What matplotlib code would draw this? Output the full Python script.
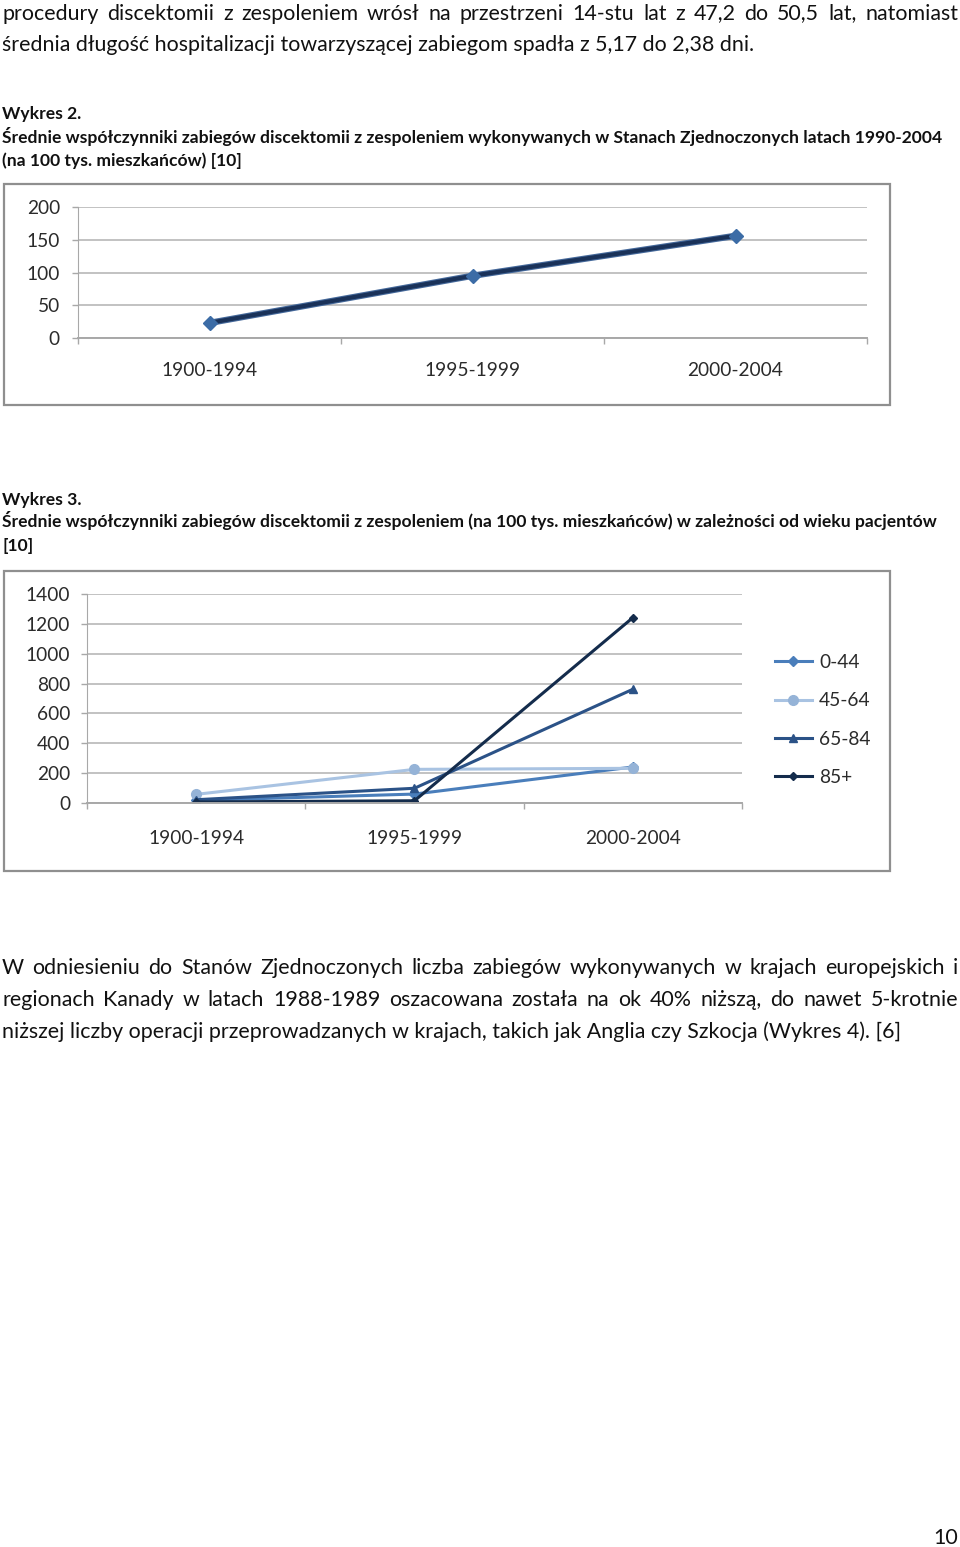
"""Strona dokumentu: Wykres 2 i Wykres 3 (discektomia z zespoleniem, USA)."""
import matplotlib
matplotlib.use("Agg")
import matplotlib.pyplot as plt
from matplotlib.patches import Rectangle

plt.rcParams["font.family"] = ["Lato", "DejaVu Sans"]

# --- data -----------------------------------------------------------------
periods = ["1900-1994", "1995-1999", "2000-2004"]
us_rate = [23, 95, 156]                     # Wykres 2

age_groups = ["0-44", "45-64", "65-84", "85+"]  # Wykres 3
rate_0_44 = [15, 58, 240]
rate_45_64 = [56, 224, 231]
rate_65_84 = [20, 97, 762]
rate_85_plus = [5, 13, 1243]

par1 = ["procedury discektomii z zespoleniem wrósł na przestrzeni 14-stu lat z 47,2 do 50,5 lat, natomiast",
        "średnia długość hospitalizacji towarzyszącej zabiegom spadła z 5,17 do 2,38 dni."]
cap2 = ["Wykres 2.",
        "Średnie współczynniki zabiegów discektomii z zespoleniem wykonywanych w Stanach Zjednoczonych latach 1990-2004",
        "(na 100 tys. mieszkańców) [10]"]
cap3 = ["Wykres 3.",
        "Średnie współczynniki zabiegów discektomii z zespoleniem (na 100 tys. mieszkańców) w zależności od wieku pacjentów",
        "[10]"]
par2 = ["W odniesieniu do Stanów Zjednoczonych liczba zabiegów wykonywanych w krajach europejskich i",
        "regionach Kanady w latach 1988-1989 oszacowana została na ok 40% niższą, do nawet 5-krotnie",
        "niższej liczby operacji przeprowadzanych w krajach, takich jak Anglia czy Szkocja (Wykres 4). [6]"]
page_no = "10"

# --- page -----------------------------------------------------------------
W, H = 960, 1547
fig = plt.figure(figsize=(W / 100, H / 100), dpi=100)
renderer = fig.canvas.get_renderer()
TXT = "#111111"


def fx(x):
    return x / W


def fy(y):
    return 1 - y / H


def width_of(s, **kw):
    t = fig.text(0, 0, s, **kw)
    w = t.get_window_extent(renderer).width
    t.remove()
    return w


def put(x, y, s, **kw):
    fig.text(fx(x), fy(y), s, va="baseline", color=TXT, **kw)


def justify(y, line, x0=2, x1=958, **kw):
    words = line.split()
    ws = [width_of(w, **kw) for w in words]
    gap = (x1 - x0 - sum(ws)) / (len(words) - 1)
    x = x0
    for w, wd in zip(words, ws):
        put(x, y, w, **kw)
        x += wd + gap


# font sizes fitted to the measured line widths of the page
body = 10 * 751 / width_of(par1[1], fontsize=10)
bold = 10 * 936 / width_of(cap2[1], fontsize=10, fontweight="bold")

justify(19.5, par1[0], fontsize=body)
put(2, 51, par1[1], fontsize=body)

for y, s in zip([118.5, 143.5, 166], cap2):
    put(2, y, s, fontsize=bold, fontweight="bold")
for y, s in zip([504.5, 527.5, 551], cap3):
    put(2, y, s, fontsize=bold, fontweight="bold")

justify(974.5, par2[0], fontsize=body)
justify(1006, par2[1], fontsize=body)
put(2, 1038, par2[2], fontsize=body)
fig.text(fx(958), fy(1544), page_no, ha="right", va="baseline", fontsize=body, color=TXT)

# chart frames
for x0, y0, x1, y1 in [(4, 184, 890, 405), (4, 571, 890, 871)]:
    fig.add_artist(Rectangle((fx(x0), fy(y1)), fx(x1 - x0), (y1 - y0) / H,
                             transform=fig.transFigure, fill=False,
                             ec="#8f8f8f", lw=1.6))

GRID = "#bdbdbd"
LAB = "#2b2b2b"
TICK_FS = 13.8


def style_axes(ax, ymax, ystep, ypad, xpad):
    ax.set_xlim(-0.5, len(periods) - 0.5)
    ax.set_ylim(0, ymax)
    ax.set_yticks(range(0, ymax + 1, ystep))
    ax.set_xticks(range(len(periods)))
    ax.set_xticklabels(periods)
    ax.set_xticks([i - 0.5 for i in range(len(periods) + 1)], minor=True)
    ax.yaxis.grid(True, color=GRID, lw=1.3)
    ax.set_axisbelow(True)
    for s in ["top", "right"]:
        ax.spines[s].set_visible(False)
    ax.spines["left"].set_color("#a8a8a8")
    ax.spines["bottom"].set_color("#a8a8a8")
    ax.spines["bottom"].set_linewidth(1.4)
    ax.tick_params(axis="y", length=4.5, width=1.0, color="#a8a8a8",
                   labelsize=TICK_FS, labelcolor=LAB, pad=ypad)
    ax.tick_params(axis="x", which="major", length=0, labelsize=TICK_FS,
                   labelcolor=LAB, pad=xpad)
    ax.tick_params(axis="x", which="minor", length=4.5, width=1.0,
                   color="#a8a8a8")
    ax.patch.set_visible(False)


# --- Wykres 2 -------------------------------------------------------------
ax1 = fig.add_axes([fx(78), fy(338), fx(867 - 78), 131 / H])
style_axes(ax1, 200, 50, 8.5, 17.5)
x = range(len(periods))
ax1.plot(x, us_rate, color="#44689a", lw=4.6, solid_capstyle="round")
ax1.plot(x, us_rate, color="#1a3259", lw=3.0, marker="D", ms=7.5,
         mfc="#3c6ca6", mec="#3c6ca6")

# --- Wykres 3 -------------------------------------------------------------
ax2 = fig.add_axes([fx(87), fy(802.7), fx(742 - 87), 208.4 / H])
style_axes(ax2, 1400, 200, 7.7, 19.5)
series = [
    (rate_0_44, "#4a7ebb", "D", 5.5, "#4a7ebb"),
    (rate_45_64, "#a9c3e2", "o", 7, "#95b3d7"),
    (rate_65_84, "#2b5287", "^", 6, "#2b5287"),
    (rate_85_plus, "#142c4c", "D", 4.5, "#142c4c"),
]
for (vals, col, mk, ms, mc), name in zip(series, age_groups):
    ax2.plot(x, vals, color=col, lw=2.2, marker=mk, ms=ms, mfc=mc, mec=mc,
             label=name)

ax2.legend(loc="center left", bbox_to_anchor=(fx(775), fy(720)),
           bbox_transform=fig.transFigure, frameon=False, fontsize=TICK_FS,
           borderpad=0, borderaxespad=0, handlelength=1.93,
           handletextpad=0.36, labelspacing=1.11, labelcolor=LAB)

fig.savefig("out.png", dpi=100, facecolor="white")
